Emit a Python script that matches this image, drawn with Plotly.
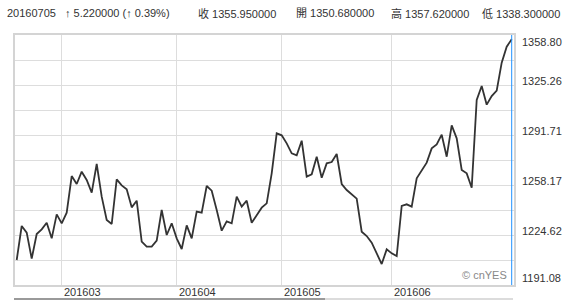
import plotly.graph_objects as go

# ---- data ----
values = [
    1207.85, 1230.66, 1226.18, 1208.74, 1225.29, 1228.42, 1232.89, 1222.38, 1238.48, 1232.45,
    1239.60, 1264.20, 1258.83, 1267.11, 1261.52, 1253.02, 1272.25, 1250.34, 1234.68, 1232.00,
    1261.97, 1257.94, 1255.26, 1243.18, 1247.65, 1220.15, 1216.79, 1216.79, 1220.82, 1241.39,
    1224.62, 1232.45, 1222.38, 1215.23, 1231.10, 1222.38, 1240.27, 1239.60, 1257.49, 1254.36,
    1241.39, 1227.53, 1233.79, 1232.45, 1250.34, 1243.63, 1247.65, 1232.89, 1237.81, 1242.96,
    1245.86, 1265.99, 1292.83, 1291.48, 1286.12, 1279.41, 1278.07, 1287.91, 1263.75, 1265.32,
    1277.17, 1263.08, 1272.70, 1273.59, 1278.96, 1258.83, 1254.81, 1252.13, 1249.00, 1226.86,
    1223.95, 1219.48, 1212.77, 1205.16, 1215.00, 1212.32, 1210.53, 1244.08, 1245.19, 1243.63,
    1262.64, 1268.23, 1273.15, 1282.76, 1285.45, 1291.93, 1277.17, 1298.19, 1289.47, 1268.23,
    1265.99, 1256.37, 1315.19, 1324.58, 1312.06, 1317.87, 1321.45, 1340.23, 1350.97, 1355.95,
]
month_index = [9, 32, 53, 75]
month_labels = ["201603", "201604", "201605", "201606"]
y_labels = ["1358.80", "1325.26", "1291.71", "1258.17", "1224.62", "1191.08"]
y_min, y_max = 1191.08, 1358.80

header_texts = [
    "20160705",
    "\u2191 5.220000 (\u2191 0.39%)",
    "收 1355.950000",
    "開 1350.680000",
    "高 1357.620000",
    "低 1338.300000",
]
header_px = [5, 63, 196, 294, 389, 480]

x = list(range(len(values)))

W, H = 570, 300
ML, MR, MT, MB = 15, 56, 35, 15
plot_w = W - ML - MR
plot_h = H - MT - MB

fig = go.Figure()
fig.add_trace(go.Scatter(
    x=x, y=values, mode="lines",
    line=dict(color="#333333", width=1.8),
    hoverinfo="skip", showlegend=False,
))

FONT = "Liberation Sans, Arial, Noto Sans CJK TC, sans-serif"

annotations = []
# header
for txt, px in zip(header_texts, header_px):
    annotations.append(dict(
        text=txt, xref="paper", yref="paper", x=0, y=1,
        xshift=px - ML, yshift=MT - 13, xanchor="left", yanchor="middle",
        showarrow=False, font=dict(size=11, color="#333333", family=FONT),
    ))
# y labels (right side)
shifts = [-7, 4, 4, 4, 4, 7]
for lab, sh in zip(y_labels, shifts):
    annotations.append(dict(
        text=lab, xref="paper", yref="y", x=1, y=float(lab),
        xshift=6, yshift=sh, xanchor="left", yanchor="middle",
        showarrow=False, font=dict(size=11, color="#333333", family=FONT),
    ))
# month labels
for mi, ml in zip(month_index, month_labels):
    annotations.append(dict(
        text=ml, xref="x", yref="paper", x=mi, y=0,
        xshift=0, yshift=-7, xanchor="left", yanchor="middle",
        showarrow=False, font=dict(size=11, color="#333333", family=FONT),
    ))
# copyright
annotations.append(dict(
    text="© cnYES", xref="paper", yref="paper", x=1, y=0,
    xshift=-5, yshift=10, xanchor="right", yanchor="middle",
    showarrow=False, font=dict(size=11, color="#888888", family=FONT),
))

shapes = [
    # current position marker
    dict(type="line", xref="x", yref="paper", x0=x[-1], x1=x[-1], y0=0, y1=1,
         line=dict(color="#1e90ff", width=1)),
    # bottom scrollbar
    dict(type="rect", xref="paper", yref="paper",
         x0=(14 - ML) / plot_w, x1=(325 - ML) / plot_w,
         y0=1 - (298 - MT) / plot_h, y1=1 - (300 - MT) / plot_h,
         line=dict(width=0), fillcolor="#9a9a9a"),
    dict(type="rect", xref="paper", yref="paper",
         x0=(325 - ML) / plot_w, x1=(513 - ML) / plot_w,
         y0=1 - (298 - MT) / plot_h, y1=1 - (300 - MT) / plot_h,
         line=dict(width=0), fillcolor="#dcdcdc"),
]

x_left = (ML - 16.7) / 5.0
x_right = (W - MR - 16.7) / 5.0

fig.update_layout(
    width=W, height=H,
    margin=dict(l=ML, r=MR, t=MT, b=MB, pad=0),
    paper_bgcolor="white", plot_bgcolor="white",
    annotations=annotations, shapes=shapes,
    xaxis=dict(
        range=[x_left, x_right], tickmode="array", tickvals=month_index,
        showticklabels=False, showgrid=True, gridcolor="#dddddd", gridwidth=1,
        zeroline=False, showline=True, linecolor="#d4d4d4", linewidth=2, mirror=True,
        ticks="",
    ),
    yaxis=dict(
        range=[y_min, y_max], tickmode="linear", tick0=y_min, dtick=(y_max - y_min) / 10,
        showticklabels=False, showgrid=True, gridcolor="#dddddd", gridwidth=1,
        zeroline=False, showline=True, linecolor="#d4d4d4", linewidth=2, mirror=True,
        ticks="",
    ),
    font=dict(family=FONT, size=11, color="#333333"),
)

fig.write_html("out.html")
